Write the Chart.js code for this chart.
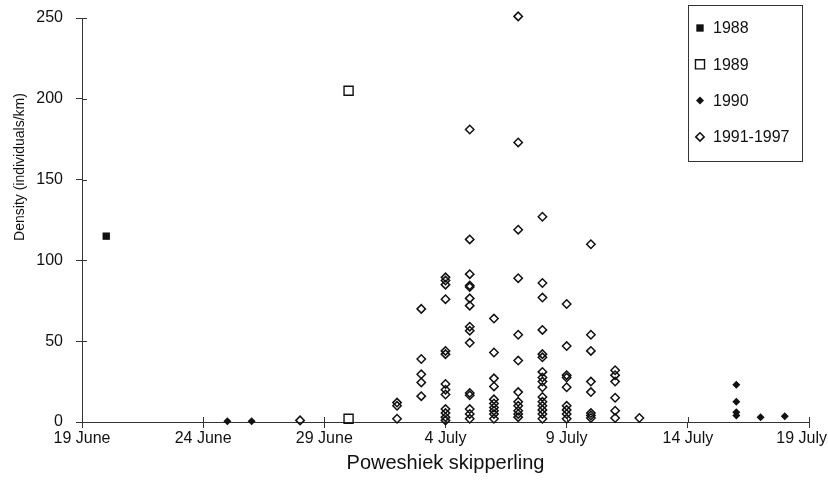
<!DOCTYPE html>
<html>
<head>
<meta charset="utf-8">
<script src="https://cdn.jsdelivr.net/npm/chart.js@4.4.1/dist/chart.umd.min.js"></script>
<style>
  html, body { margin: 0; padding: 0; background: #fff; }
  #wrap { width: 828px; height: 494px; }
</style>
</head>
<body>
<div id="wrap"><canvas id="chart"></canvas></div>
<script>
// x values are days counted from 19 June
const tickDays = [0, 5, 10, 15, 20, 25, 30];
const tickLabels = ["19 June", "24 June", "29 June", "4 July", "9 July", "14 July", "19 July"];
const yTicks = [0, 50, 100, 150, 200, 250];

const days1988 = [1];
const density1988 = [115];

const days1989 = [11, 11];
const density1989 = [205, 2];

const days1990 = [6, 7, 27, 27, 27, 27, 28, 29];
const density1990 = [0.5, 0.5, 23, 12.5, 6, 4, 3, 3.5];

// 1991-1997: every survey on a given day
const days9197 = [9, 13, 14, 15, 16, 17, 18, 19, 20, 21, 22, 23];
const density9197 = [
  [1],
  [12, 10, 2],
  [70, 39, 29.5, 24.5, 16],
  [89.5, 87.5, 85, 76, 44, 42, 23.5, 20, 17, 8, 5.5, 3, 1],
  [181, 113, 91.5, 84.5, 83.5, 76.5, 72, 59, 56.5, 49, 18, 16.5, 8, 5, 2],
  [64, 43, 27, 22, 14, 11.5, 9, 7, 5, 2],
  [251, 173, 119, 89, 54, 38, 18.5, 12.5, 10, 7, 5, 3],
  [127, 86, 77, 57, 42, 40, 31, 27.5, 25, 21.5, 15.5, 12.5, 10, 7.5, 5, 2],
  [73, 47, 29, 27.5, 21.5, 10, 7.5, 5, 2],
  [110, 54, 44, 25, 18.5, 5.5, 4, 2.5],
  [32, 29, 25, 15, 7, 2.5],
  [2.5]
];

const ink = "#111";
const axisColor = "#333";
const font = '"Liberation Sans", Arial, sans-serif';

const pairs = (xs, ys) => xs.map((d, i) => ({ x: d, y: ys[i] }));
const points9197 = days9197.flatMap((d, i) => density9197[i].map(v => ({ x: d, y: v })));

// tick marks that cross the axes, x labels, y title and the boxed legend
const decor = {
  id: "decor",
  afterDraw(chart) {
    const { ctx, chartArea: a, scales: { x, y } } = chart;
    ctx.save();
    ctx.strokeStyle = axisColor;
    ctx.lineWidth = 1;
    ctx.beginPath();
    yTicks.forEach(v => {
      const py = Math.round(y.getPixelForValue(v)) + 0.5;
      ctx.moveTo(a.left, py);
      ctx.lineTo(a.left + 5, py);
    });
    tickDays.forEach(d => {
      const px = Math.round(x.getPixelForValue(d)) + 0.5;
      ctx.moveTo(px, a.bottom);
      ctx.lineTo(px, a.bottom - 5);
    });
    ctx.stroke();

    ctx.fillStyle = ink;
    ctx.font = "16px " + font;
    ctx.textAlign = "center";
    ctx.textBaseline = "middle";
    tickDays.forEach((d, i) => {
      const w = ctx.measureText(tickLabels[i]).width;
      const px = Math.min(x.getPixelForValue(d), chart.width - w / 2 - 1);
      ctx.fillText(tickLabels[i], px, a.bottom + 17);
    });

    ctx.save();
    ctx.translate(20, 167);
    ctx.rotate(-Math.PI / 2);
    ctx.font = "14px " + font;
    ctx.fillText("Density (individuals/km)", 0, 0);
    ctx.restore();

    // legend
    ctx.strokeStyle = axisColor;
    ctx.strokeRect(688.5, 5.5, 114, 156);
    ctx.font = "16px " + font;
    ctx.textAlign = "left";
    chart.data.datasets.forEach((ds, i) => {
      const cy = 28 + i * 36.3;
      ctx.fillStyle = ds.backgroundColor;
      ctx.strokeStyle = ds.borderColor;
      ctx.lineWidth = ds.borderWidth;
      Chart.helpers.drawPoint(ctx, {
        pointStyle: ds.pointStyle, radius: ds.pointRadius,
        borderWidth: ds.borderWidth, rotation: 0
      }, 700, cy);
      ctx.fillStyle = ink;
      ctx.fillText(ds.label, 713, cy + 1);
    });
    ctx.restore();
  }
};

new Chart(document.getElementById("chart"), {
  type: "scatter",
  data: {
    datasets: [
      {
        label: "1988", data: pairs(days1988, density1988),
        pointStyle: "rect", pointRadius: 5.2, borderWidth: 0,
        backgroundColor: ink, borderColor: ink, clip: false
      },
      {
        label: "1989", data: pairs(days1989, density1989),
        pointStyle: "rect", pointRadius: 6.4, borderWidth: 1.4,
        backgroundColor: "rgba(255,255,255,0)", borderColor: ink, clip: false
      },
      {
        label: "1990", data: pairs(days1990, density1990),
        pointStyle: "rectRot", pointRadius: 4, borderWidth: 0,
        backgroundColor: ink, borderColor: ink, clip: false
      },
      {
        label: "1991-1997", data: points9197,
        pointStyle: "rectRot", pointRadius: 4.2, borderWidth: 1.5,
        backgroundColor: "rgba(255,255,255,0)", borderColor: ink, clip: false
      }
    ]
  },
  options: {
    responsive: true,
    maintainAspectRatio: false,
    animation: false,
    layout: { padding: { top: 18, right: 19, bottom: 0, left: 0 } },
    plugins: { legend: { display: false }, tooltip: { enabled: false } },
    scales: {
      x: {
        type: "linear", min: 0, max: 30,
        afterBuildTicks: s => { s.ticks = tickDays.map(v => ({ value: v })); },
        afterFit: s => { s.height = 72; s.paddingLeft = 0; s.paddingRight = 0; },
        ticks: { display: false },
        grid: { drawOnChartArea: false, tickLength: 6, color: axisColor },
        border: { color: axisColor, width: 1 },
        title: {
          display: true, text: "Poweshiek skipperling", color: ink,
          font: { family: font, size: 20 }, padding: { top: 0, bottom: 19 }
        }
      },
      y: {
        min: 0, max: 250,
        afterBuildTicks: s => { s.ticks = yTicks.map(v => ({ value: v })); },
        afterFit: s => { s.width = 82; s.paddingTop = 0; s.paddingBottom = 0; },
        ticks: { color: ink, padding: 13, font: { family: font, size: 16 } },
        grid: { drawOnChartArea: false, tickLength: 6, color: axisColor },
        border: { color: axisColor, width: 1 }
      }
    }
  },
  plugins: [decor]
});
</script>
</body>
</html>
